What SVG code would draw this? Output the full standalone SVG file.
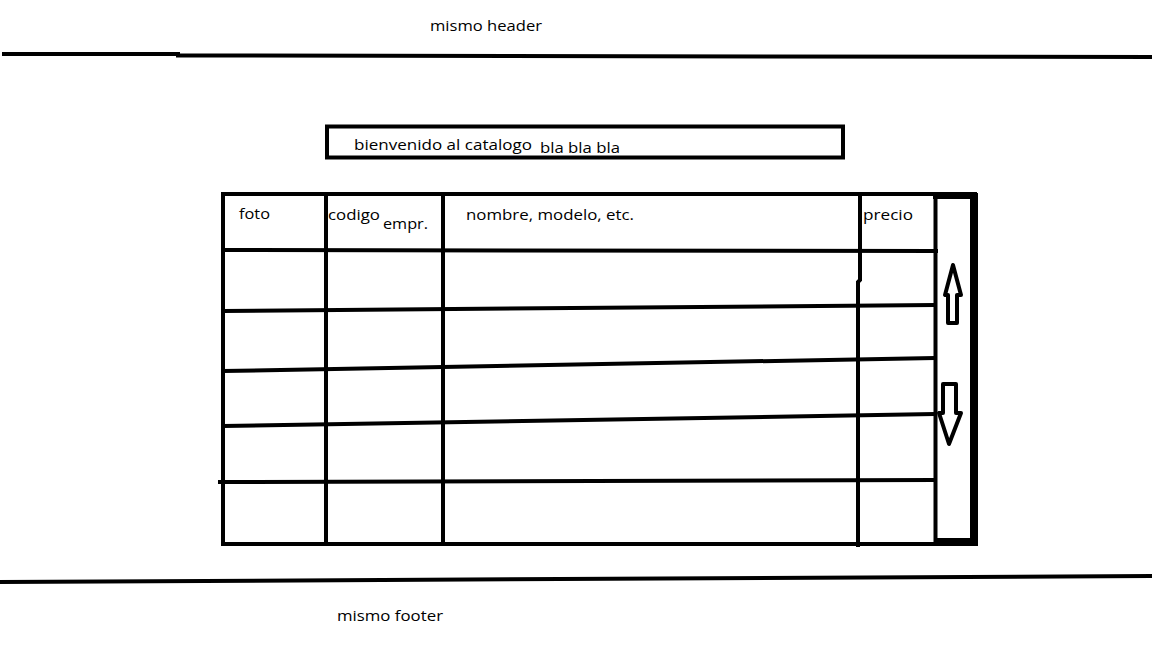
<svg xmlns="http://www.w3.org/2000/svg" width="1152" height="648" viewBox="0 0 1152 648">
<style>
.ln{stroke:#000;stroke-width:4;fill:none;stroke-linecap:butt}
.t{font-family:"Open Sans","Noto Sans","Liberation Sans",sans-serif;font-size:15px;fill:#000}
.tf{font-family:"Open Sans","Noto Sans","Liberation Sans",sans-serif;font-size:15px;fill:#000}
</style>
<rect width="1152" height="648" fill="#fff"/>
<g id="header">
<text class="t" x="430" y="31" textLength="112" lengthAdjust="spacingAndGlyphs">mismo header</text>
<path class="ln" d="M2 54 L178 54 L178 55.5 L1152 57"/>
</g>
<g id="welcome">
<rect class="ln" x="327" y="126.5" width="516" height="31"/>
<text class="t" x="354" y="150" textLength="178" lengthAdjust="spacingAndGlyphs">bienvenido al catalogo</text>
<text class="t" x="540" y="153" textLength="80" lengthAdjust="spacingAndGlyphs">bla bla bla</text>
</g>
<g id="table">
<rect class="ln" x="223" y="194" width="752" height="350"/>
<line class="ln" x1="326" y1="194" x2="326" y2="544"/>
<line class="ln" x1="443" y1="194" x2="443" y2="544"/>
<path class="ln" d="M860 194 L860 280 L858 282 L858 547"/>
<line class="ln" x1="223" y1="250" x2="938" y2="251"/>
<line class="ln" x1="223" y1="311" x2="935" y2="305"/>
<line class="ln" x1="223" y1="371" x2="935" y2="358"/>
<line class="ln" x1="223" y1="426" x2="935" y2="414"/>
<line class="ln" x1="218" y1="482" x2="935" y2="480"/>
<text class="t" x="239" y="219" textLength="31" lengthAdjust="spacingAndGlyphs">foto</text>
<text class="t" x="328" y="220" textLength="52" lengthAdjust="spacingAndGlyphs">codigo</text>
<text class="t" x="383" y="229" textLength="45" lengthAdjust="spacingAndGlyphs">empr.</text>
<text class="t" x="466" y="220" textLength="168" lengthAdjust="spacingAndGlyphs">nombre, modelo, etc.</text>
<text class="t" x="863" y="220" textLength="50" lengthAdjust="spacingAndGlyphs">precio</text>
</g>
<g id="scrollbar">
<line class="ln" x1="935.5" y1="198" x2="935.5" y2="542"/>
<line x1="974" y1="194" x2="974" y2="546" stroke="#000" stroke-width="8"/>
<line x1="935" y1="541" x2="978" y2="541" stroke="#000" stroke-width="6"/>
<line x1="933" y1="196" x2="978" y2="196" stroke="#000" stroke-width="6"/>
<polygon class="ln" stroke-width="3" stroke-linejoin="round" points="953,265 945,295 948,295 948,323 957,323 957,295 961,295"/>
<polygon class="ln" stroke-width="3" stroke-linejoin="round" points="943,384 956,384 956,413 961,413 949,444 939,413 943,413"/>
</g>
<g id="footer">
<path class="ln" d="M0 582 L1152 576"/>
<text class="tf" x="337" y="621" textLength="106" lengthAdjust="spacingAndGlyphs">mismo footer</text>
</g>
</svg>
